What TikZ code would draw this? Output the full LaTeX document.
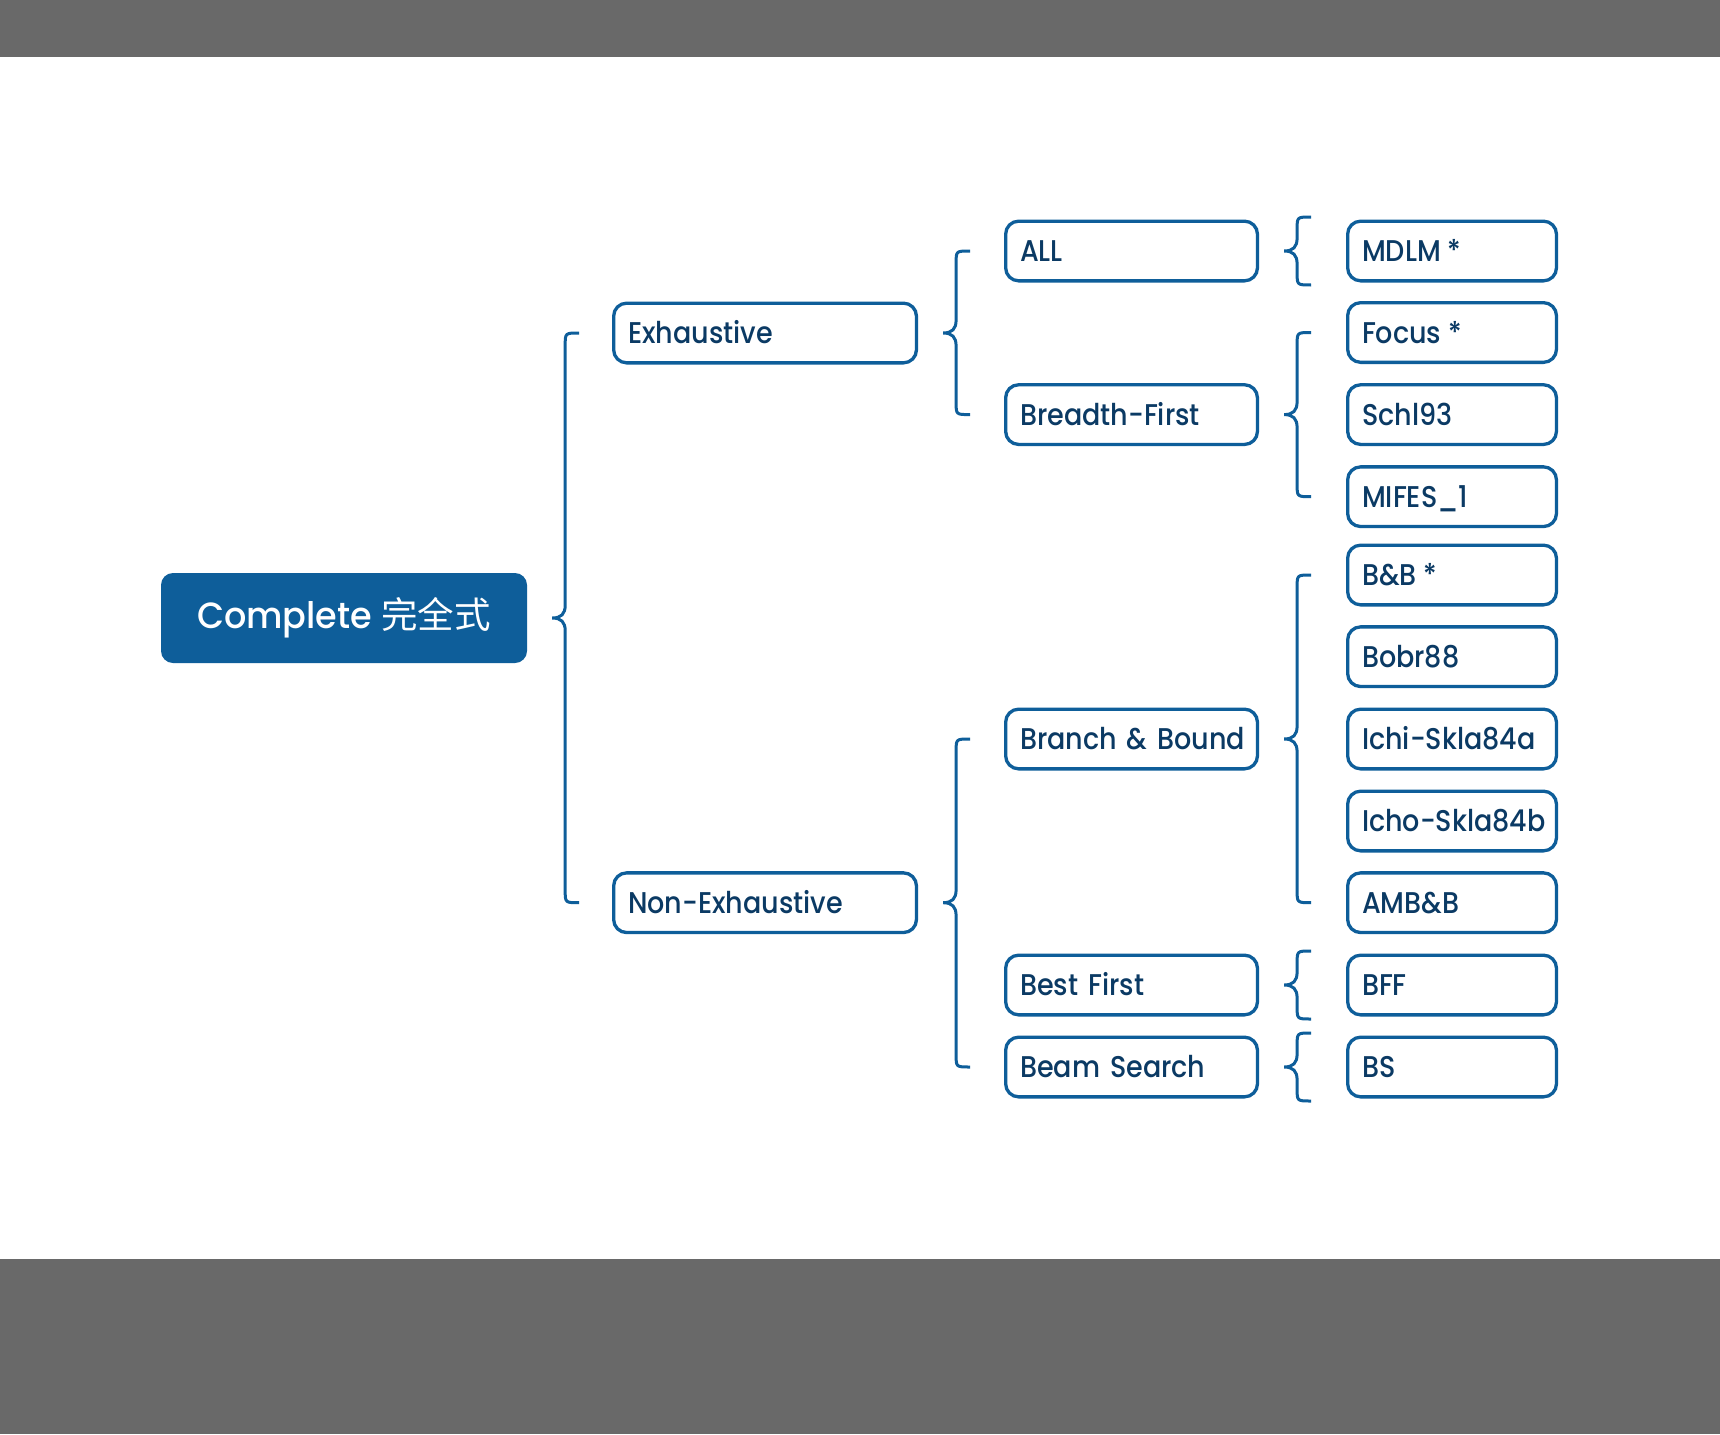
\documentclass[tikz,border=0pt]{standalone}
\usepackage{fontspec}
\setmainfont{Poppins}[UprightFont=* Medium, FakeStretch=0.9]
\newfontfamily\rootfont{Poppins}[UprightFont=* Medium, FakeStretch=0.96]
\newfontfamily\cjk{Noto Sans CJK SC}
\usetikzlibrary{calc}
\definecolor{bcol}{HTML}{0E5E9A}
\definecolor{tcol}{HTML}{0B3A64}
\definecolor{band}{HTML}{696969}
\tikzset{
 lvbox/.style={draw=bcol, line width=3.3pt, rounded corners=13pt, fill=white, text=tcol,
   font=\fontsize{30}{36}\selectfont, anchor=west, minimum height=59.7pt,
   inner xsep=14.4pt, inner ysep=0pt, outer sep=1.65pt, align=left,
   text height=21pt, text depth=0pt,
   execute at begin node={\leavevmode\hbox\bgroup}, execute at end node={\egroup}},
 lone/.style={lvbox, text width=274pt},
 ltwo/.style={lvbox, text width=223pt},
 lthree/.style={lvbox, text width=180pt},
 rootbox/.style={fill=bcol, rounded corners=12pt, text=white, font=\rootfont\fontsize{36.5}{42}\selectfont,
   minimum width=366pt, minimum height=90pt, inner sep=0pt},
 brc/.style={draw=bcol, line width=3pt},
}
\newcommand\mybrace[4]{%
\draw[brc] let \p1=(#1.east), \p2=(#2.west), \p3=(#3.west) in
 (\x1+52pt,\y2+#4) .. controls (\x1+38pt,\y2+#4) .. (\x1+38pt,\y2+#4-12pt)
 -- (\x1+38pt,\y1+13pt) .. controls (\x1+38pt,\y1+4pt) and (\x1+34pt,\y1) .. (\x1+25pt,\y1)
 .. controls (\x1+34pt,\y1) and (\x1+38pt,\y1-4pt) .. (\x1+38pt,\y1-13pt)
 -- (\x1+38pt,\y3-#4+12pt) .. controls (\x1+38pt,\y3-#4) .. (\x1+52pt,\y3-#4);}
\begin{document}
\begin{tikzpicture}[x=1pt,y=-1pt]
\useasboundingbox (0,0) rectangle (1720,1434);
\fill[white] (0,0) rectangle (1720,1434);
\fill[band] (0,0) rectangle (1720,57);
\fill[band] (0,1259) rectangle (1720,1434);
% root
\node[rootbox] (root) at (344,618) {Complete {\cjk 完全式}};
% level 1
\node[lone] (ex) at (612,333) {Exhaustive};
\node[lone] (nex) at (612,902.7) {Non-Exhaustive};
% level 2
\node[ltwo] (all) at (1004,251) {ALL};
\node[ltwo] (bf) at (1004,414.6) {Breadth-First};
\node[ltwo] (bb) at (1004,739) {Branch \& Bound};
\node[ltwo] (bestf) at (1004,985) {Best First};
\node[ltwo] (beam) at (1004,1067) {Beam Search};
% level 3
\node[lthree] (mdlm) at (1346,251) {MDLM\hspace{-3pt} *};
\node[lthree] (focus) at (1346,332.5) {Focus\hspace{-3pt} *};
\node[lthree] (schl) at (1346,414.6) {Schl93};
\node[lthree] (mifes) at (1346,496.7) {MIFES\_1};
\node[lthree] (bbs) at (1346,575) {B\&B\hspace{-3pt} *};
\node[lthree] (bobr) at (1346,656.7) {Bobr88};
\node[lthree] (ichi) at (1346,739) {Ichi-Skla84a};
\node[lthree] (icho) at (1346,821) {Icho-Skla84b};
\node[lthree] (ambb) at (1346,902.7) {AMB\&B};
\node[lthree] (bff) at (1346,985) {BFF};
\node[lthree] (bs) at (1346,1067) {BS};
% braces
\mybrace{root}{ex}{nex}{0pt}
\mybrace{ex}{all}{bf}{0pt}
\mybrace{nex}{bb}{beam}{0pt}
\mybrace{all}{mdlm}{mdlm}{34pt}
\mybrace{bf}{focus}{mifes}{0pt}
\mybrace{bb}{bbs}{ambb}{0pt}
\mybrace{bestf}{bff}{bff}{34pt}
\mybrace{beam}{bs}{bs}{34pt}
\end{tikzpicture}
\end{document}
